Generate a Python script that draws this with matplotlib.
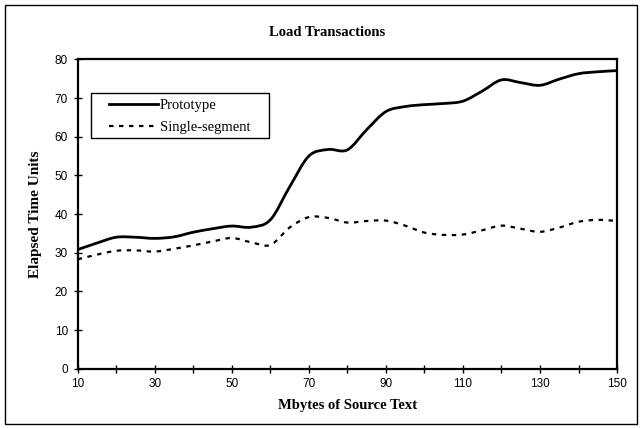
import matplotlib
matplotlib.use('Agg')
import matplotlib.pyplot as plt
from matplotlib.path import Path
from matplotlib.patches import PathPatch, Rectangle
from matplotlib.lines import Line2D

# data
mbytes = [10, 15, 20, 25, 30, 35, 40, 45, 50, 55, 60, 65, 70, 75, 80,
          85, 90, 95, 100, 105, 110, 115, 120, 125, 130, 135, 140, 145, 150]
prototype = [30.8, 32.5, 34.0, 34.0, 33.7, 34.1, 35.3, 36.2, 36.9, 36.6, 38.5,
             47.0, 55.0, 56.7, 56.6, 61.8, 66.5, 67.8, 68.3, 68.6, 69.2, 71.8,
             74.7, 74.0, 73.3, 74.9, 76.3, 76.8, 77.1]
single_segment = [28.3, 29.5, 30.5, 30.6, 30.3, 31.0, 31.9, 32.9, 33.8, 32.7,
                  32.0, 36.5, 39.2, 39.0, 37.8, 38.2, 38.3, 37.0, 35.2, 34.6,
                  34.7, 35.8, 37.0, 36.2, 35.4, 36.5, 38.0, 38.5, 38.2]
x_ticks = list(range(10, 151, 10))
x_labels = [str(v) if (v - 10) % 20 == 0 else '' for v in x_ticks]
y_ticks = list(range(0, 81, 10))

serif = 'Liberation Serif'
sans = 'Liberation Sans'


def smooth_path(xs, ys):
    # excel-style smoothed line: bezier segments through every data point
    verts = [(xs[0], ys[0])]
    codes = [Path.MOVETO]
    n = len(xs)
    for i in range(n - 1):
        i0 = max(i - 1, 0)
        i3 = min(i + 2, n - 1)
        c1 = (xs[i] + (xs[i + 1] - xs[i0]) / 6, ys[i] + (ys[i + 1] - ys[i0]) / 6)
        c2 = (xs[i + 1] - (xs[i3] - xs[i]) / 6, ys[i + 1] - (ys[i3] - ys[i]) / 6)
        verts += [c1, c2, (xs[i + 1], ys[i + 1])]
        codes += [Path.CURVE4] * 3
    return Path(verts, codes)


fig = plt.figure(figsize=(6.41, 4.28), dpi=100)
ax = fig.add_axes([0.1212, 0.1386, 0.8414, 0.7226])

proto_style = dict(color='black', lw=2)
single_style = dict(color='black', lw=1.6, linestyle=(0, (2, 2.5)))
ax.add_patch(PathPatch(smooth_path(mbytes, prototype), fill=False,
                       edgecolor='black', lw=2))
ax.add_patch(PathPatch(smooth_path(mbytes, single_segment), fill=False,
                       edgecolor='black', lw=1.6, linestyle=(0, (2, 2.5))))

ax.set_xlim(10, 150)
ax.set_ylim(0, 80)
ax.set_xticks(x_ticks)
ax.set_xticklabels(x_labels, fontfamily=sans, fontsize=8.5)
ax.set_yticks(y_ticks)
ax.set_yticklabels([str(v) for v in y_ticks], fontfamily=sans, fontsize=8.5)
ax.tick_params(direction='inout', length=6, width=1, pad=4)

for s in ax.spines.values():
    s.set_linewidth(1.6)

ax.set_xlabel('Mbytes of Source Text', fontfamily=serif, fontweight='bold',
              fontsize=10.5, labelpad=6)
ax.set_ylabel('Elapsed Time Units', fontfamily=serif, fontweight='bold',
              fontsize=11, labelpad=9)

fig.text(0.51, 0.923, 'Load Transactions', ha='center', va='center',
         fontfamily=serif, fontweight='bold', fontsize=10.5)

handles = [Line2D([], [], **proto_style), Line2D([], [], **single_style)]
leg = ax.legend(handles, ['Prototype', 'Single-segment'], loc='upper left',
                bbox_to_anchor=(0.058, 0.873), borderaxespad=0, frameon=False,
                prop={'family': serif, 'size': 10.5}, handlelength=3.36,
                handletextpad=0.14, labelspacing=0.62, borderpad=0)
# legend box
ax.add_patch(Rectangle((0.024, 0.745), 0.331, 0.145, transform=ax.transAxes,
                       fill=False, edgecolor='black', lw=1, zorder=5))

# outer chart border
fig.patches.append(Rectangle((5 / 641, 4 / 428), 632 / 641, 419 / 428,
                             transform=fig.transFigure, fill=False,
                             edgecolor='black', lw=1))

plt.savefig('out.png', dpi=100)
